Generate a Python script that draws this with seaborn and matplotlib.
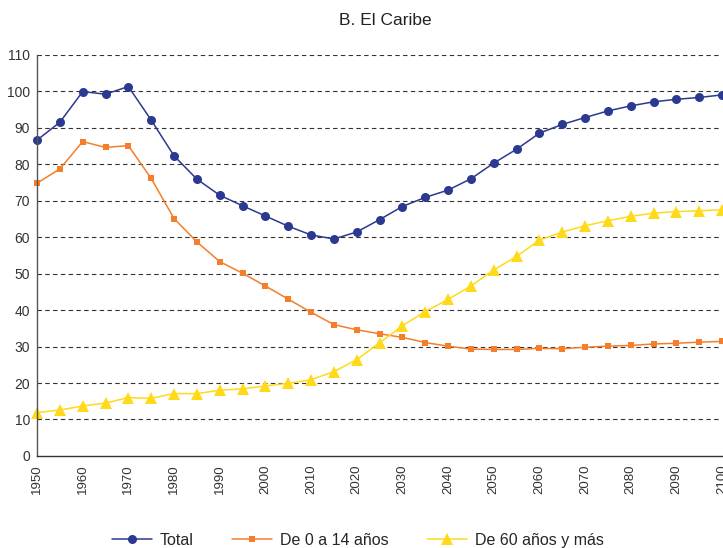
import numpy as np
import pandas as pd
import matplotlib
matplotlib.use("Agg")
import matplotlib.pyplot as plt
import seaborn as sns

# -----------------------------
# Data
# -----------------------------
years = list(range(1950, 2101, 5))

total = [86.6, 91.5, 99.9, 99.2, 101.3, 92.1, 82.3, 75.9, 71.5, 68.6,
         65.8, 63.0, 60.6, 59.5, 61.4, 64.8, 68.4, 70.9, 72.9, 76.0,
         80.3, 84.1, 88.5, 90.9, 92.8, 94.6, 96.0, 97.1, 97.8, 98.3, 99.0]

age_0_14 = [74.8, 78.7, 86.2, 84.6, 85.1, 76.1, 65.1, 58.7, 53.3, 50.1,
            46.6, 43.0, 39.4, 36.0, 34.6, 33.5, 32.5, 31.1, 30.1, 29.3,
            29.2, 29.2, 29.5, 29.4, 29.8, 30.1, 30.3, 30.7, 30.9, 31.2, 31.4]

age_60_plus = [11.9, 12.6, 13.7, 14.5, 16.0, 15.8, 17.1, 17.1, 18.0, 18.4,
               19.2, 19.9, 20.9, 23.1, 26.4, 31.0, 35.7, 39.6, 42.9, 46.6,
               51.0, 54.7, 59.2, 61.4, 63.1, 64.5, 65.7, 66.6, 67.0, 67.2, 67.5]

labels = ["Total", "De 0 a 14 años", "De 60 años y más"]
colors = ["#2B3990", "#F47E2A", "#FFDA1A"]
markers = ["o", "s", "^"]
msizes = [6.5, 5, 8]

df = pd.DataFrame({"Año": years, labels[0]: total,
                   labels[1]: age_0_14, labels[2]: age_60_plus})

# -----------------------------
# Plot
# -----------------------------
sns.set_style("white")
plt.rcParams["font.family"] = ["Liberation Sans", "DejaVu Sans"]

fig = plt.figure(figsize=(7.23, 5.48), dpi=100)
ax = fig.add_axes([0.0512, 0.168, 0.9475, 0.732])

for lab, col, mk, ms in zip(labels, colors, markers, msizes):
    sns.lineplot(data=df, x="Año", y=lab, ax=ax, color=col, marker=mk,
                 markersize=ms, markeredgewidth=0, linewidth=1.1, label=lab,
                 clip_on=False)

ax.set_xlim(1950, 2100)
ax.set_ylim(0, 110)
ax.set_xticks(years[::2])
ax.set_xticklabels([str(y) for y in years[::2]], rotation=90, fontsize=9.5, color="#333333")
ax.set_yticks(range(0, 111, 10))
ax.tick_params(axis="y", labelsize=10, labelcolor="#333333", length=5, width=0.8,
               color="#555555", direction="in", pad=5)
ax.tick_params(axis="x", length=3, width=0.8, color="#555555", direction="out", pad=3)
ax.set_xlabel("")
ax.set_ylabel("")

for v in range(10, 111, 10):
    ax.axhline(v, color="#333333", linestyle=(0, (4, 3)), linewidth=0.8, zorder=0)

for side in ["top", "right"]:
    ax.spines[side].set_visible(False)
ax.spines["left"].set_color("#555555")
ax.spines["bottom"].set_color("#333333")
ax.spines["left"].set_linewidth(1.0)
ax.spines["bottom"].set_linewidth(1.0)

fig.text(0.5325, 0.962, "B. El Caribe", ha="center", va="center", fontsize=12.5, color="#222222")

handles, labs = ax.get_legend_handles_labels()
ax.get_legend().remove()
fig.legend(handles, labs, loc="center", bbox_to_anchor=(0.495, 0.0145),
           ncol=3, frameon=False, fontsize=11.5, handlelength=2.5,
           columnspacing=2.4, handletextpad=0.5)

plt.savefig("out.png", dpi=100)
